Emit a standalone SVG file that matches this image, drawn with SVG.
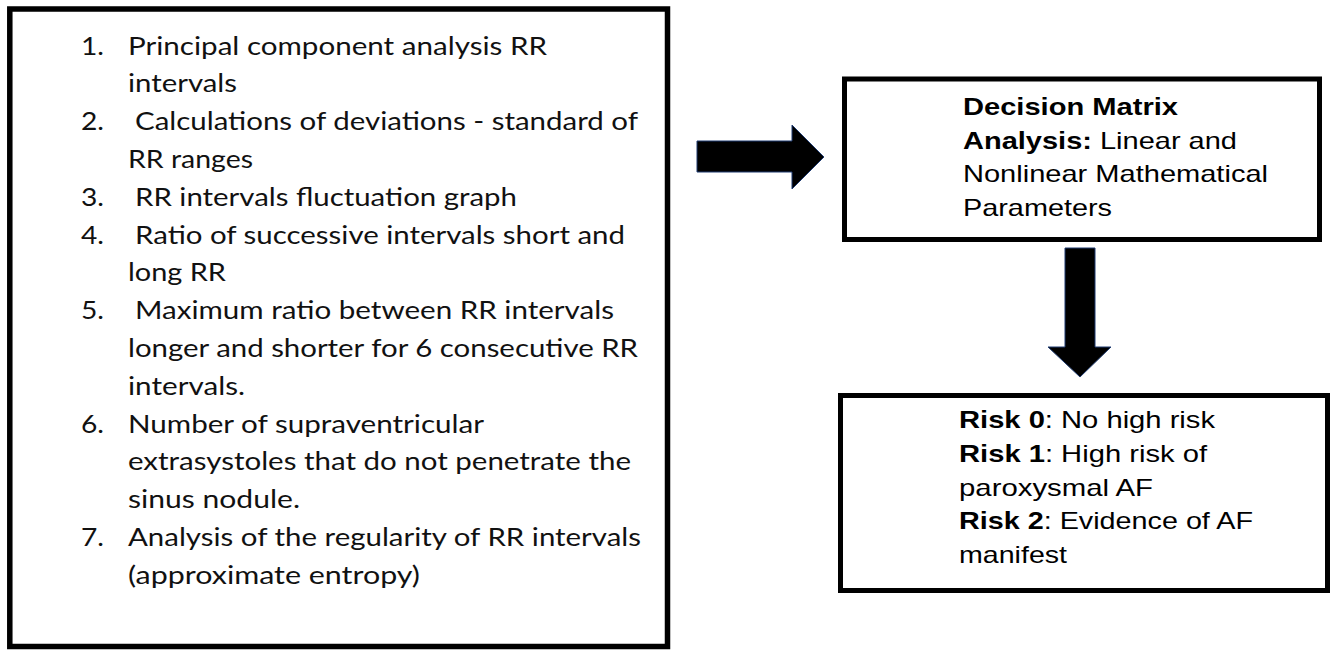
<svg xmlns="http://www.w3.org/2000/svg" width="1333" height="651" viewBox="0 0 1333 651">
<style>
.box{fill:#fff;stroke:#000;stroke-width:5.5}
.cal{font-family:Lato,"Open Sans","Liberation Sans",sans-serif;font-size:25px;fill:#111}
.ari{font-family:"Liberation Sans",Arial,sans-serif;font-size:24px;fill:#000}
.b{font-weight:bold}
.arrow{fill:#000;stroke:#1f3b70;stroke-width:1}
</style>
<rect width="1333" height="651" fill="#fff"/>
<g id="node-steps">
<rect class="box" x="9.8" y="9" width="657.7" height="637.5"/>
<g class="cal">
<text x="81" y="54.5" textLength="23" lengthAdjust="spacingAndGlyphs">1.</text>
<text x="128" y="54.5" textLength="419" lengthAdjust="spacingAndGlyphs">Principal component analysis RR</text>
<text x="128" y="92.3" textLength="109" lengthAdjust="spacingAndGlyphs">intervals</text>
<text x="81" y="130.1" textLength="23" lengthAdjust="spacingAndGlyphs">2.</text>
<text x="135" y="130.1" textLength="503" lengthAdjust="spacingAndGlyphs">Calculations of deviations - standard of</text>
<text x="128" y="167.9" textLength="125" lengthAdjust="spacingAndGlyphs">RR ranges</text>
<text x="81" y="205.7" textLength="23" lengthAdjust="spacingAndGlyphs">3.</text>
<text x="135" y="205.7" textLength="382" lengthAdjust="spacingAndGlyphs">RR intervals fluctuation graph</text>
<text x="81" y="243.5" textLength="23" lengthAdjust="spacingAndGlyphs">4.</text>
<text x="135" y="243.5" textLength="490" lengthAdjust="spacingAndGlyphs">Ratio of successive intervals short and</text>
<text x="128" y="281.3" textLength="98" lengthAdjust="spacingAndGlyphs">long RR</text>
<text x="81" y="319.1" textLength="23" lengthAdjust="spacingAndGlyphs">5.</text>
<text x="135" y="319.1" textLength="479" lengthAdjust="spacingAndGlyphs">Maximum ratio between RR intervals</text>
<text x="128" y="356.9" textLength="510" lengthAdjust="spacingAndGlyphs">longer and shorter for 6 consecutive RR</text>
<text x="128" y="394.7" textLength="117" lengthAdjust="spacingAndGlyphs">intervals.</text>
<text x="81" y="432.5" textLength="23" lengthAdjust="spacingAndGlyphs">6.</text>
<text x="128" y="432.5" textLength="356" lengthAdjust="spacingAndGlyphs">Number of supraventricular</text>
<text x="128" y="470.3" textLength="503" lengthAdjust="spacingAndGlyphs">extrasystoles that do not penetrate the</text>
<text x="128" y="508.1" textLength="172" lengthAdjust="spacingAndGlyphs">sinus nodule.</text>
<text x="81" y="545.9" textLength="23" lengthAdjust="spacingAndGlyphs">7.</text>
<text x="128" y="545.9" textLength="513" lengthAdjust="spacingAndGlyphs">Analysis of the regularity of RR intervals</text>
<text x="128" y="583.7" textLength="292" lengthAdjust="spacingAndGlyphs">(approximate entropy)</text>
</g>
</g>
<g id="node-decision">
<rect class="box" x="844.5" y="79" width="475" height="160.5" style="stroke-width:5"/>
<g class="ari">
<text x="963" y="115" class="b" textLength="215" lengthAdjust="spacingAndGlyphs">Decision Matrix</text>
<text x="963" y="148.5" textLength="274" lengthAdjust="spacingAndGlyphs"><tspan class="b">Analysis:</tspan> Linear and</text>
<text x="963" y="182" textLength="305" lengthAdjust="spacingAndGlyphs">Nonlinear Mathematical</text>
<text x="963" y="215.5" textLength="149" lengthAdjust="spacingAndGlyphs">Parameters</text>
</g>
</g>
<g id="node-risk">
<rect class="box" x="840.5" y="395.5" width="487" height="195" style="stroke-width:5"/>
<g class="ari">
<text x="959" y="428" textLength="256" lengthAdjust="spacingAndGlyphs"><tspan class="b">Risk 0</tspan>: No high risk</text>
<text x="959" y="461.8" textLength="248" lengthAdjust="spacingAndGlyphs"><tspan class="b">Risk 1</tspan>: High risk of</text>
<text x="959" y="495.6" textLength="194" lengthAdjust="spacingAndGlyphs">paroxysmal AF</text>
<text x="959" y="529.4" textLength="294" lengthAdjust="spacingAndGlyphs"><tspan class="b">Risk 2</tspan>: Evidence of AF</text>
<text x="959" y="563.2" textLength="108" lengthAdjust="spacingAndGlyphs">manifest</text>
</g>
</g>
<g id="connectors">
<polygon class="arrow" points="697,141 792,141 792,125 824,157 792,189 792,172 697,172"/>
<polygon class="arrow" points="1065,248 1095,248 1095,347 1111,347 1080,377 1048,347 1065,347"/>
</g>
</svg>
